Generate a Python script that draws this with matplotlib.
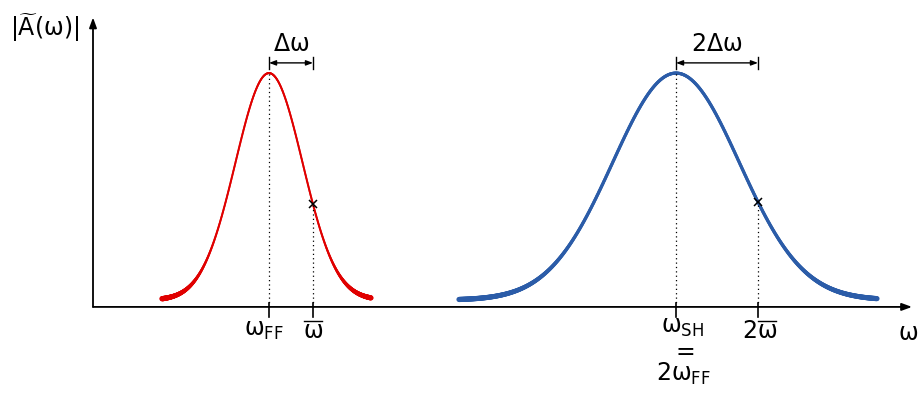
import numpy as np
import matplotlib.pyplot as plt
from matplotlib.collections import LineCollection

plt.rcParams['font.family'] = ['DejaVu Sans']
plt.rcParams['mathtext.fontset'] = 'custom'
plt.rcParams['mathtext.rm'] = 'DejaVu Sans'
plt.rcParams['mathtext.it'] = 'DejaVu Sans'   # upright greek

# frequency axis, arbitrary units
w_ff = 1.76          # fundamental centre
w_bar = 2.20         # fundamental half width point
w_sh = 5.83          # second harmonic centre
w_bar2 = 6.65        # 2 * w_bar
ff_span = (0.69, 2.78)
sh_span = (3.66, 7.84)
sigma_ff = 0.335
sigma_sh = 0.633
floor = 0.03         # pulses sit slightly above the axis
peak = 1.0

RED = '#e00000'
BLUE = '#2b5ca8'


def pulse(x, x0, s):
    return floor + peak * np.exp(-(x - x0) ** 2 / (2 * s ** 2))


def tapered(ax, x0, s, span, color, w_mid, w_end, k):
    # hand-drawn look: stroke swells near the tails
    x = np.linspace(span[0], span[1], 600)
    y = pulse(x, x0, s)
    g = (y - floor) / peak
    pts = np.column_stack([x, y]).reshape(-1, 1, 2)
    segs = np.concatenate([pts[:-1], pts[1:]], axis=1)
    gm = 0.5 * (g[:-1] + g[1:])
    widths = w_mid + (w_end - w_mid) * (1 - gm) ** k
    lc = LineCollection(segs, colors=color, linewidths=widths, capstyle='round')
    ax.add_collection(lc)


def omega_bar(ax, xc, fs):
    # mathtext puts \overline off-centre, so draw the bar by hand
    ax.text(xc, -0.108, r'$\omega$', ha='center', va='center', fontsize=fs)
    ax.plot([xc - 0.09, xc + 0.09], [-0.062, -0.062], color='black', lw=1.0)


fig = plt.figure(figsize=(9.22, 3.95), dpi=100)
ax = fig.add_axes([0, 0, 1, 1])
ax.set_xlim(-0.93, 8.29)
ax.set_ylim(-0.388, 1.352)
ax.axis('off')

# axes with arrow heads
head = '-|>,head_length=0.6,head_width=0.22'
ax.annotate('', xy=(8.19, 0), xytext=(0, 0),
            arrowprops=dict(arrowstyle=head, color='black', lw=1.3, shrinkA=0, shrinkB=0))
ax.annotate('', xy=(0, 1.275), xytext=(0, 0),
            arrowprops=dict(arrowstyle=head, color='black', lw=1.3, shrinkA=0, shrinkB=0))

tapered(ax, w_ff, sigma_ff, ff_span, RED, 1.4, 4.0, 12)
tapered(ax, w_sh, sigma_sh, sh_span, BLUE, 2.3, 3.8, 8)

# dotted guides from curve down to the axis
dots = (0, (1, 2.5))
for xc, s in [(w_ff, sigma_ff), (w_sh, sigma_sh)]:
    ax.plot([xc, xc], [0, pulse(xc, xc, s)], ls=dots, color='black', lw=0.9)
for xc, x0, s in [(w_bar, w_ff, sigma_ff), (w_bar2, w_sh, sigma_sh)]:
    yv = pulse(xc, x0, s)
    ax.plot([xc, xc], [0, yv], ls=dots, color='black', lw=0.9)
    ax.plot(xc, yv, marker='x', color='black', ms=6, mew=1.1)

# tick marks
for xt in [w_ff, w_bar, w_sh, w_bar2]:
    ax.plot([xt, xt], [-0.045, 0.018], color='black', lw=1.2)

fs = 17

# width markers
for xa, xb, label in [(w_ff, w_bar, r'$\Delta\omega$'), (w_sh, w_bar2, r'$2\Delta\omega$')]:
    ax.annotate('', xy=(xb, 1.075), xytext=(xa, 1.075),
                arrowprops=dict(arrowstyle='<|-|>,head_length=0.4,head_width=0.15',
                                color='black', lw=1.0, shrinkA=0, shrinkB=0))
    for xe in (xa, xb):
        ax.plot([xe, xe], [1.05, 1.10], color='black', lw=1.0)
    ax.text(0.5 * (xa + xb), 1.16, label, ha='center', va='center', fontsize=fs)

ax.text(w_ff - 0.05, -0.048, r'$\omega_{\mathrm{FF}}$', ha='center', va='top', fontsize=fs)
omega_bar(ax, w_bar, fs)
# stacked "w_SH = 2 w_FF" under the second harmonic tick
ax.text(w_sh + 0.07, -0.036, '$\\omega_{\\mathrm{SH}}$\n$=$\n$2\\omega_{\\mathrm{FF}}$',
        ha='center', va='top', multialignment='center', linespacing=0.95, fontsize=fs)
ax.text(w_bar2 - 0.01, -0.108, '2', ha='right', va='center', fontsize=fs)
omega_bar(ax, w_bar2 + 0.09, fs)
ax.text(8.15, -0.115, r'$\omega$', ha='center', va='center', fontsize=fs)
ax.text(-0.48, 1.23, r'$|\widetilde{\mathrm{A}}(\omega)|$', ha='center', va='center',
        fontsize=fs)

fig.savefig('out.png', dpi=100)
